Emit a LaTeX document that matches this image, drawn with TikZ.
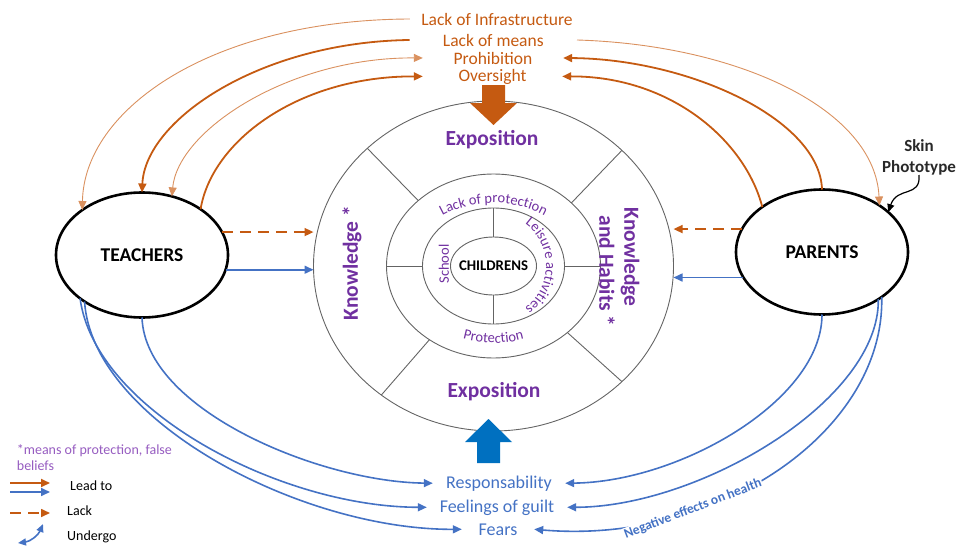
\documentclass[tikz,border=0pt]{standalone}
\usepackage{fontspec}
\setmainfont{Carlito}
\usetikzlibrary{arrows.meta,shapes.geometric,decorations.text}
\definecolor{org}{RGB}{197,90,17}
\definecolor{orgl}{RGB}{218,145,95}
\definecolor{blu}{RGB}{68,114,196}
\definecolor{bigblue}{RGB}{0,112,192}
\definecolor{pur}{RGB}{112,48,160}
\definecolor{purl}{RGB}{150,92,192}
\definecolor{ringgray}{RGB}{100,100,100}
\definecolor{skingray}{RGB}{40,40,40}
\newcommand{\arcfnt}{\fontsize{14.5}{16}\selectfont}
\begin{document}
\begin{tikzpicture}[x=1pt,y=1pt,
  ring/.style={ellipse, draw=ringgray, line width=0.9pt, inner sep=0pt, outer sep=0pt},
  actor/.style={ellipse, draw=black, line width=2.6pt, inner sep=0pt, outer sep=0pt,
     minimum width=172pt, minimum height=125pt, font=\fontsize{19.5}{22}\selectfont\bfseries},
  toplbl/.style={text=org, font=\fontsize{17.5}{20}\selectfont, inner sep=0pt, anchor=base},
  botlbl/.style={text=blu, font=\fontsize{18}{20}\selectfont, inner sep=0pt, anchor=base},
  purbig/.style={text=pur, font=\fontsize{21.5}{24}\selectfont\bfseries, inner sep=0pt},
  pursmall/.style={text=pur, font=\arcfnt, inner sep=0pt},
  arrowtip/.style={-{Triangle[length=9pt,width=8pt]}},
  orthick/.style={draw=org, line width=1.8pt, arrowtip},
  orthin/.style={draw=orgl, line width=0.9pt, arrowtip},
  lackarrow/.style={draw=org, line width=1.6pt, dash pattern=on 11pt off 7pt, arrowtip},
  blueline/.style={draw=blu, line width=1.6pt, arrowtip},
  legtext/.style={font=\fontsize{14}{16}\selectfont, inner sep=0pt, anchor=base west},
]
\useasboundingbox (0,0) rectangle (959,-546);
\coordinate (C) at (493.5,-266);

% rings
\node[ring, minimum width=360pt, minimum height=330pt] (outer) at (C) {};
\node[ring, minimum width=214pt, minimum height=184pt] (mid) at (C) {};
\node[ring, minimum width=142pt, minimum height=116pt] (inn) at (C) {};
\node[ring, minimum width=86pt, minimum height=58pt] (child) at (C) {};
\node[font=\fontsize{14.8}{16}\selectfont\bfseries, inner sep=0pt] (childtxt) at (C) {CHILDRENS};

% dividers
\draw[ringgray, line width=0.9pt] (outer.137.5) -- (mid.139.5);
\draw[ringgray, line width=0.9pt] (outer.42) -- (mid.39);
\draw[ringgray, line width=0.9pt] (outer.229) -- (mid.229);
\draw[ringgray, line width=0.9pt] (outer.-42.5) -- (mid.-42);
\draw[ringgray, line width=0.9pt] (mid.west) -- (inn.west);
\draw[ringgray, line width=0.9pt] (mid.east) -- (inn.east);
\draw[ringgray, line width=0.9pt] (inn.north) -- (child.north);
\draw[ringgray, line width=0.9pt] (inn.south) -- (child.south);

% ring texts
\node[purbig, anchor=base] (expt) at (492,-145) {Exposition};
\node[purbig, anchor=base] (expb) at (494,-397) {Exposition};
\node[purbig, rotate=90] (know) at (352,-263) {Knowledge *};
\node[purbig, rotate=-90] (knowh) at (630,-257) {Knowledge};
\node[purbig, rotate=-90] (habits) at (607,-271) {and Habits *};
\node[pursmall, rotate=90] (school) at (444,-264) {School};
\path[decorate, decoration={text along path, text align=center, text color=pur,
   text={|\arcfnt|Lack of protection}}]
   (C) ++(152:85 and 63) arc[start angle=152, end angle=28, x radius=85, y radius=63];
\path[decorate, decoration={text along path, text align=center, text color=pur,
   text={|\arcfnt|Protection}}]
   (C) ++(235:95 and 77) arc[start angle=235, end angle=305, x radius=95, y radius=77];
\path[decorate, decoration={text along path, text align=center, text color=pur,
   text={|\arcfnt|Leisure activities}}]
   (500,-266) ++(70:46 and 50) arc[start angle=70, end angle=-70, x radius=46, y radius=50];

% big arrows
\fill[org] (482,-85) -- (505,-85) -- (505,-103) -- (517,-103) -- (493.5,-125) -- (470,-103) -- (482,-103) -- cycle;
\fill[bigblue] (477,-463) -- (500,-463) -- (500,-442) -- (512,-442) -- (488.5,-419) -- (465,-442) -- (477,-442) -- cycle;

% actors
\node[actor] (teachers) at (142,-255) {TEACHERS};
\node[actor] (parents) at (822,-252) {PARENTS};

% top labels
\node[toplbl, minimum width=174pt] (infra) at (497,-25) {Lack of Infrastructure};
\node[toplbl, minimum width=167pt] (means) at (493.3,-46) {Lack of means};
\node[toplbl, minimum width=140pt] (prohib) at (493,-64) {Prohibition};
\node[toplbl, minimum width=139pt] (over) at (492.5,-81) {Oversight};

% bottom labels
\node[botlbl, minimum width=132pt] (resp) at (499,-488) {Responsability};
\node[botlbl, minimum width=140pt] (feel) at (497,-512) {Feelings of guilt};
\node[botlbl, minimum width=72pt] (fears) at (498,-535) {Fears};

% orange curves left
\draw[orthin] (infra.west) .. controls (210,-20) and (84,-110) .. (teachers.143);
\draw[orthick] (means.west) .. controls (260,-42) and (145,-120) .. (teachers.north);
\draw[orthin, {Triangle[length=9pt,width=8pt]}-{Triangle[length=9pt,width=8pt]}] (teachers.63) .. controls (178,-130) and (290,-57) .. (prohib.west);
\draw[orthick] (teachers.38) .. controls (212,-140) and (300,-76) .. (over.west);
% orange curves right
\draw[orthin] (means.east) .. controls (740,-45) and (875,-110) .. (parents.39.5);
\draw[orthick] (parents.north) .. controls (820,-120) and (690,-59) .. (prohib.east);
\draw[orthick] (parents.143) .. controls (745,-140) and (670,-76) .. (over.east);

% horizontal arrows
\draw[lackarrow] (teachers.16) -- (teachers.16 -| outer.west);
\draw[blueline] (teachers.-10) -- (teachers.-10 -| outer.west);
\draw[lackarrow] (parents.164) -- (parents.164 -| outer.east);
\draw[blueline] (parents.198) -- (parents.198 -| outer.east);

% blue curves
\draw[blueline] (teachers.south) .. controls (145,-410) and (320,-482) .. (resp.west);
\draw[blueline] (teachers.215) .. controls (95,-410) and (280,-507) .. (feel.west);
\draw[blueline] (teachers.219) .. controls (92,-420) and (300,-530) .. (fears.west);
\draw[blueline] (parents.south) .. controls (822,-400) and (680,-482) .. (resp.east);
\draw[blueline] (parents.-40) .. controls (880,-400) and (700,-507) .. (feel.east);
\draw[blueline] (parents.-37) .. controls (885,-430) and (720,-545) .. (fears.east);
\node[text=blu, font=\fontsize{13.5}{15}\selectfont\bfseries, fill=white, inner sep=1pt, rotate=21] (neg) at (693,-509) {Negative effects on health};

% skin phototype
\node[text=skingray, font=\fontsize{17}{21}\selectfont\bfseries, align=center, inner sep=0pt] (skin) at (919,-157) {Skin\\Phototype};
\draw[black, line width=1.2pt, -{Triangle[length=8pt,width=7pt]}] (skin.south) .. controls (921,-198) and (897,-186) .. (parents.31);

% legend
\node[legtext, text=purl] (note1) at (16.7,-454) {*means of protection, false};
\node[legtext, text=purl] (note2) at (16.7,-470) {beliefs};
\coordinate (lgoa) at (10,-483); \coordinate (lgob) at (50,-483);
\coordinate (lgba) at (10,-492); \coordinate (lgbb) at (50,-492);
\coordinate (lgla) at (10,-513); \coordinate (lglb) at (50,-513);
\coordinate (lgua) at (18,-543); \coordinate (lgub) at (43,-524);
\draw[orthick] (lgoa) -- (lgob);
\draw[blueline] (lgba) -- (lgbb);
\draw[lackarrow] (lgla) -- (lglb);
\draw[draw=blu, line width=1.6pt, {Triangle[length=8pt,width=7pt]}-{Triangle[length=8pt,width=7pt]}] (lgua) to[bend right=30] (lgub);
\node[legtext] (leadto) at (70,-490) {Lead to};
\node[legtext] (lacktxt) at (67,-515) {Lack};
\node[legtext] (undergo) at (67,-540) {Undergo};
\end{tikzpicture}
\end{document}
